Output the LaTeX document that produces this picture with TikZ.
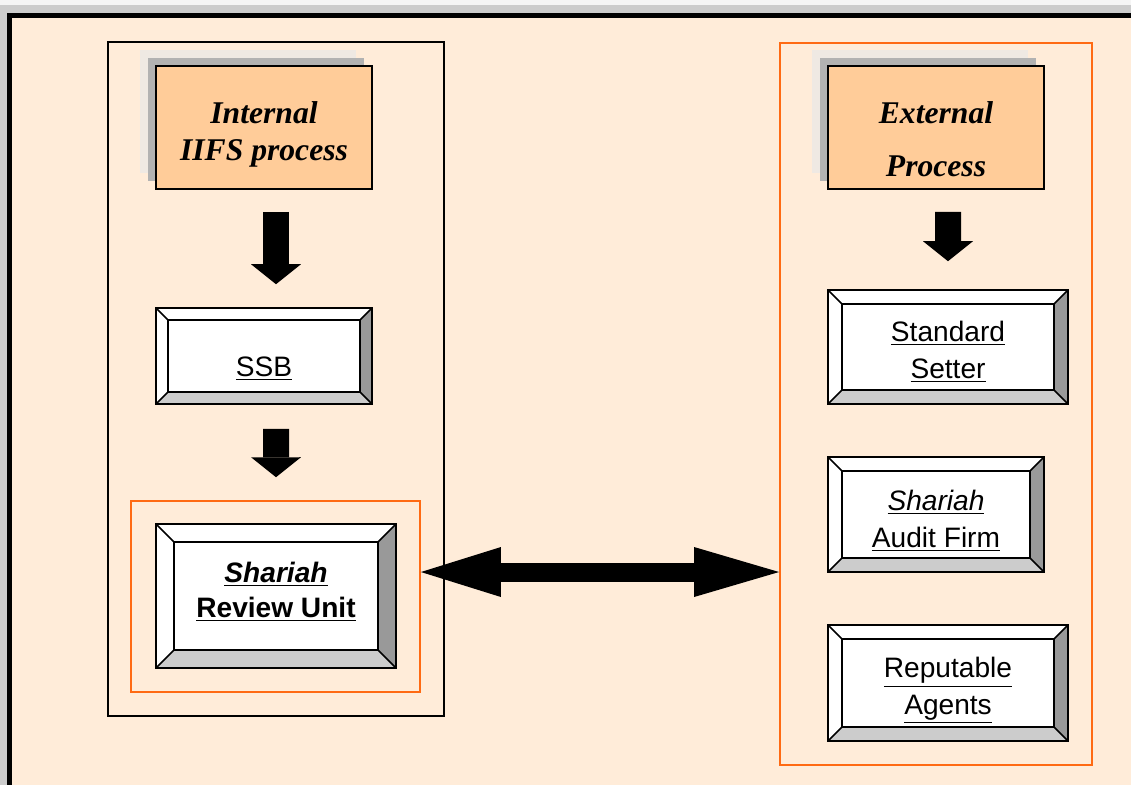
\documentclass[tikz,border=0pt]{standalone}
\usepackage{fontspec}
\setmainfont{Liberation Serif}
\newfontfamily\labelfont{Liberation Sans}
\usepackage{tikz}
\usetikzlibrary{arrows.meta}

\definecolor{bgpeach}{RGB}{255,236,217}
\definecolor{titlefill}{RGB}{255,204,153}
\definecolor{frameorange}{RGB}{255,106,19}
\definecolor{bevdark}{RGB}{153,153,153}
\definecolor{bevlight}{RGB}{204,204,204}
\definecolor{shadowdark}{RGB}{178,178,178}
\definecolor{shadowlight}{RGB}{239,233,227}

\tikzset{
	titlebox/.style={draw, line width=0.9pt, fill=titlefill, minimum width=4.32cm, minimum height=2.46cm},
	titletext/.style={align=center, inner sep=0pt, font=\fontsize{18}{21.5}\selectfont\bfseries\itshape},
	bevelbox/.style={draw, line width=0.9pt, fill=white, inner sep=0pt,
		path picture={
			\coordinate (bvne) at (path picture bounding box.north east);
			\coordinate (bvse) at (path picture bounding box.south east);
			\coordinate (bvsw) at (path picture bounding box.south west);
			\coordinate (bvnw) at (path picture bounding box.north west);
			\coordinate (bvine) at ([shift={(-#1,-#1)}]bvne);
			\coordinate (bvise) at ([shift={(-#1,#1)}]bvse);
			\coordinate (bvisw) at ([shift={(#1,#1)}]bvsw);
			\coordinate (bvinw) at ([shift={(#1,-#1)}]bvnw);
			\fill[bevdark] (bvne) -- (bvse) -- (bvise) -- (bvine) -- cycle;
			\fill[bevlight] (bvsw) -- (bvse) -- (bvise) -- (bvisw) -- cycle;
			\draw[line width=0.9pt] (bvisw) rectangle (bvine);
			\draw[line width=0.9pt] (bvsw) -- (bvisw) (bvse) -- (bvise) (bvne) -- (bvine) (bvnw) -- (bvinw);
		}},
	boxtext/.style={align=center, inner sep=0pt, font=\labelfont\fontsize{16}{21}\selectfont},
	panel/.style={draw, line width=0.85pt, inner sep=0pt},
	orangepanel/.style={draw=frameorange, line width=1.1pt, inner sep=0pt},
	fatarrow/.style={line width=0.52cm, -{Triangle[width=1cm, length=0.4cm, line width=0pt]}},
	bothways/.style={line width=0.38cm, {Triangle[width=1cm, length=1.6cm, line width=0pt]}-{Triangle[width=1cm, length=1.7cm, line width=0pt]}},
}

\begin{document}
\begin{tikzpicture}[x=0.02cm, y=-0.02cm]
	\useasboundingbox (0,0) rectangle (1131,785);
	% window frame
	\fill[gray!40] (0,0) rectangle (1131,785);
	\fill[gray!8] (0,0) rectangle (1131,5);
	\fill[black] (7,13) rectangle (1131,785);
	\fill[bgpeach] (12,18) rectangle (1131,785);

	% containers
	\node[panel, minimum width=6.72cm, minimum height=13.48cm] (insidebox) at (276,379) {};
	\node[orangepanel, minimum width=5.78cm, minimum height=3.82cm] (reviewbox) at (275.5,596.5) {};
	\node[orangepanel, minimum width=6.24cm, minimum height=14.44cm] (outsidebox) at (936,404) {};

	% title shadows
	\fill[shadowlight] (140,50) rectangle (356,173);
	\fill[shadowdark] (148,58) rectangle (364,181);
	\fill[shadowlight] (812,50) rectangle (1028,173);
	\fill[shadowdark] (820,58) rectangle (1036,181);

	\node[titlebox] (internal) at (264,127.5) {};
	\node[titletext] (internaltext) at (264,134.5) {Internal\\IIFS process};
	\node[titlebox] (external) at (936,127.5) {};
	\node[titletext, font=\fontsize{18}{30}\selectfont\bfseries\itshape] (externaltext) at (936,139.5) {External\\Process};

	\node[bevelbox=0.24cm, minimum width=4.32cm, minimum height=1.92cm] (ssb) at (264,356) {};
	\node[boxtext] (ssbtext) at (264,369) {\underline{SSB}};
	\node[bevelbox=0.36cm, minimum width=4.8cm, minimum height=2.88cm] (unit) at (276,596) {};
	\node[boxtext, font=\labelfont\fontsize{16}{20}\selectfont\bfseries] (unittext) at (276,592)
		{\underline{\itshape Shariah}\\\underline{Review Unit}};
	\node[bevelbox=0.28cm, minimum width=4.8cm, minimum height=2.28cm] (setter) at (948,347) {};
	\node[boxtext] (settertext) at (948,352) {\underline{Standard}\\\underline{Setter}};
	\node[bevelbox=0.28cm, minimum width=4.32cm, minimum height=2.3cm] (audit) at (936,514.5) {};
	\node[boxtext] (audittext) at (936,520.5) {\underline{\itshape Shariah}\\\underline{Audit Firm}};
	\node[bevelbox=0.28cm, minimum width=4.8cm, minimum height=2.32cm] (agents) at (948,683) {};
	\node[boxtext] (agentstext) at (948,690.5) {\underline{Reputable}\\\underline{Agents}};

	\draw[fatarrow, shorten <=0.44cm, shorten >=0.46cm] ([xshift=0.24cm]internal.south) -- ([xshift=0.24cm]ssb.north);
	\draw[fatarrow, shorten <=0.48cm, shorten >=0.92cm] ([xshift=0.24cm]ssb.south) -- (unit.north);
	\draw[fatarrow, shorten <=0.44cm, shorten >=0.56cm] ([xshift=0.24cm]external.south) -- (setter.north);

	\coordinate (linkleft) at ([yshift=0.49cm]reviewbox.east);
	\draw[bothways] (linkleft) -- (linkleft -| outsidebox.west);
\end{tikzpicture}
\end{document}
